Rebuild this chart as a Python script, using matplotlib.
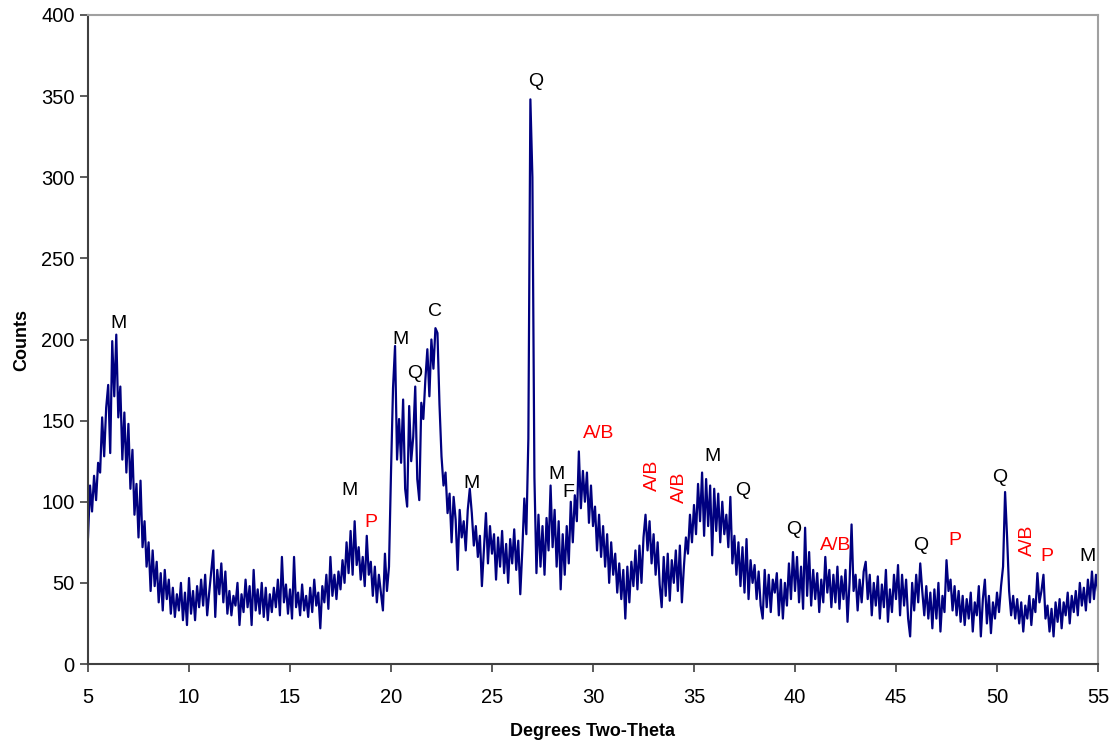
import matplotlib.pyplot as plt
import numpy as np

plt.rcParams['font.family'] = ['Liberation Sans', 'DejaVu Sans']

# two-theta from 5 to 55 in 0.1 degree steps, counts
start_deg = 5.0
step_deg = 0.1
counts = [
    78, 110, 94, 116, 101, 124, 118, 152, 128, 158,      # 5
    172, 130, 199, 165, 203, 152, 171, 126, 155, 118,    # 6
    148, 108, 132, 92, 111, 78, 113, 72, 88, 60,         # 7
    75, 45, 70, 48, 63, 38, 56, 33, 58, 40,              # 8
    52, 31, 47, 29, 43, 33, 50, 27, 44, 24,              # 9
    53, 31, 45, 27, 48, 35, 52, 36, 55, 30,              # 10
    44, 57, 70, 29, 58, 43, 62, 38, 57, 31,              # 11
    45, 30, 42, 36, 50, 24, 43, 32, 52, 35,              # 12
    48, 24, 58, 33, 46, 31, 50, 29, 47, 27,              # 13
    43, 32, 47, 35, 52, 30, 66, 38, 49, 31,              # 14
    46, 28, 66, 35, 44, 30, 49, 33, 42, 29,              # 15
    47, 32, 52, 36, 44, 22, 48, 38, 55, 34,              # 16
    66, 42, 55, 40, 57, 46, 64, 50, 75, 56,              # 17
    82, 55, 88, 61, 72, 52, 66, 48, 79, 55,              # 18
    63, 42, 60, 38, 55, 44, 33, 68, 45, 60,              # 19
    118, 170, 196, 126, 151, 124, 163, 108, 97, 159,     # 20
    125, 140, 171, 114, 101, 161, 151, 175, 194, 165,    # 21
    200, 182, 207, 204, 160, 128, 110, 118, 93, 105,     # 22
    75, 103, 89, 58, 95, 78, 88, 70, 95, 108,            # 23
    93, 73, 85, 66, 79, 48, 70, 93, 62, 85,              # 24
    68, 80, 52, 78, 60, 82, 56, 74, 50, 77,              # 25
    62, 83, 58, 76, 43, 70, 102, 80, 139, 348,           # 26
    300, 115, 56, 92, 60, 85, 55, 90, 70, 110,           # 27
    72, 95, 60, 88, 46, 80, 55, 85, 62, 100,             # 28
    75, 104, 88, 131, 96, 119, 100, 118, 87, 110,        # 29
    85, 97, 70, 92, 66, 85, 60, 80, 50, 75,              # 30
    55, 68, 44, 62, 40, 58, 28, 60, 38, 63,              # 31
    48, 70, 46, 73, 50, 78, 92, 70, 88, 62,              # 32
    80, 55, 75, 49, 35, 66, 42, 68, 39, 64,              # 33
    50, 70, 45, 73, 38, 60, 78, 68, 92, 75,              # 34
    98, 80, 111, 88, 118, 79, 114, 85, 110, 67,          # 35
    108, 82, 105, 75, 100, 80, 92, 72, 103, 62,          # 36
    79, 55, 75, 48, 72, 44, 77, 40, 64, 50,              # 37
    61, 40, 57, 36, 28, 58, 35, 55, 32, 52,              # 38
    44, 56, 30, 52, 28, 50, 36, 62, 40, 69,              # 39
    45, 66, 38, 60, 34, 84, 42, 69, 36, 58,              # 40
    40, 56, 32, 52, 38, 66, 44, 58, 35, 55,              # 41
    38, 60, 34, 54, 40, 58, 26, 50, 86, 45,              # 42
    55, 33, 52, 38, 57, 63, 40, 55, 30, 50,              # 43
    36, 54, 28, 49, 35, 58, 26, 46, 32, 55,              # 44
    40, 61, 30, 55, 36, 52, 28, 17, 50, 33,              # 45
    55, 38, 62, 45, 30, 48, 28, 44, 22, 46,              # 46
    28, 50, 20, 42, 32, 64, 45, 52, 33, 48,              # 47
    30, 45, 26, 42, 24, 40, 28, 44, 20, 38,              # 48
    30, 48, 17, 40, 52, 25, 42, 19, 38, 28,              # 49
    44, 32, 48, 60, 106, 78, 45, 30, 42, 28,             # 50
    40, 25, 38, 20, 36, 28, 42, 24, 40, 32,              # 51
    56, 38, 45, 55, 28, 36, 20, 34, 17, 38,              # 52
    26, 40, 22, 38, 30, 44, 25, 42, 32, 45,              # 53
    30, 50, 36, 47, 33, 52, 38, 57, 40, 55,              # 54
    45,                                                  # 55
]
two_theta = start_deg + step_deg * np.arange(len(counts))

# phase labels: text, two-theta, counts, colour, rotation
label_text = ['M', 'M', 'P', 'M', 'Q', 'C', 'M', 'Q', 'M', 'F', 'A/B', 'A/B',
              'A/B', 'M', 'Q', 'Q', 'A/B', 'Q', 'P', 'Q', 'A/B', 'P', 'M']
label_x = [6.49, 17.97, 19.0, 20.45, 21.19, 22.18, 24.0, 27.18, 28.17, 28.8, 30.3, 32.92,
           34.3, 35.9, 37.43, 39.95, 42.03, 46.24, 47.92, 50.15, 51.53, 52.47, 54.5]
label_y = [210, 107, 87, 200, 179, 217, 111, 359, 117, 106, 142, 116,
           109, 128, 107, 83, 73, 73, 76, 115, 76, 66, 66]
label_color = ['black', 'black', 'red', 'black', 'black', 'black', 'black', 'black', 'black',
               'black', 'red', 'red', 'red', 'black', 'black', 'black', 'red', 'black',
               'red', 'black', 'red', 'red', 'black']
label_rot = [0, 0, 0, 0, 0, 0, 0, 0, 0, 0, 0, 90,
             90, 0, 0, 0, 0, 0, 0, 0, 90, 0, 0]

fig = plt.figure(figsize=(11.12, 7.4), dpi=100)
ax = fig.add_axes([88 / 1112, 1 - 664 / 740, (1098 - 88) / 1112, (664 - 15) / 740])

ax.plot(two_theta, counts, color='#000080', linewidth=1.6)

for t, x, y, c, r in zip(label_text, label_x, label_y, label_color, label_rot):
    ax.text(x, y, t, color=c, rotation=r, fontsize=14, ha='center', va='center')

ax.set_xlim(5, 55)
ax.set_ylim(0, 400)
ax.set_xticks(np.arange(5, 56, 5))
ax.set_yticks(np.arange(0, 401, 50))
ax.tick_params(axis='both', labelsize=14.5, length=6, width=1.2, color='#404040', direction='out')
ax.tick_params(axis='x', pad=11)

for side in ['left', 'bottom']:
    ax.spines[side].set_color('#404040')
    ax.spines[side].set_linewidth(1.5)
for side in ['top', 'right']:
    ax.spines[side].set_color('#a0a0a0')
    ax.spines[side].set_linewidth(1.5)

ax.set_xlabel('Degrees Two-Theta', fontsize=13, fontweight='bold', labelpad=12)
ax.set_ylabel('Counts', fontsize=13, fontweight='bold', labelpad=8)

fig.savefig('out.png', dpi=100)
